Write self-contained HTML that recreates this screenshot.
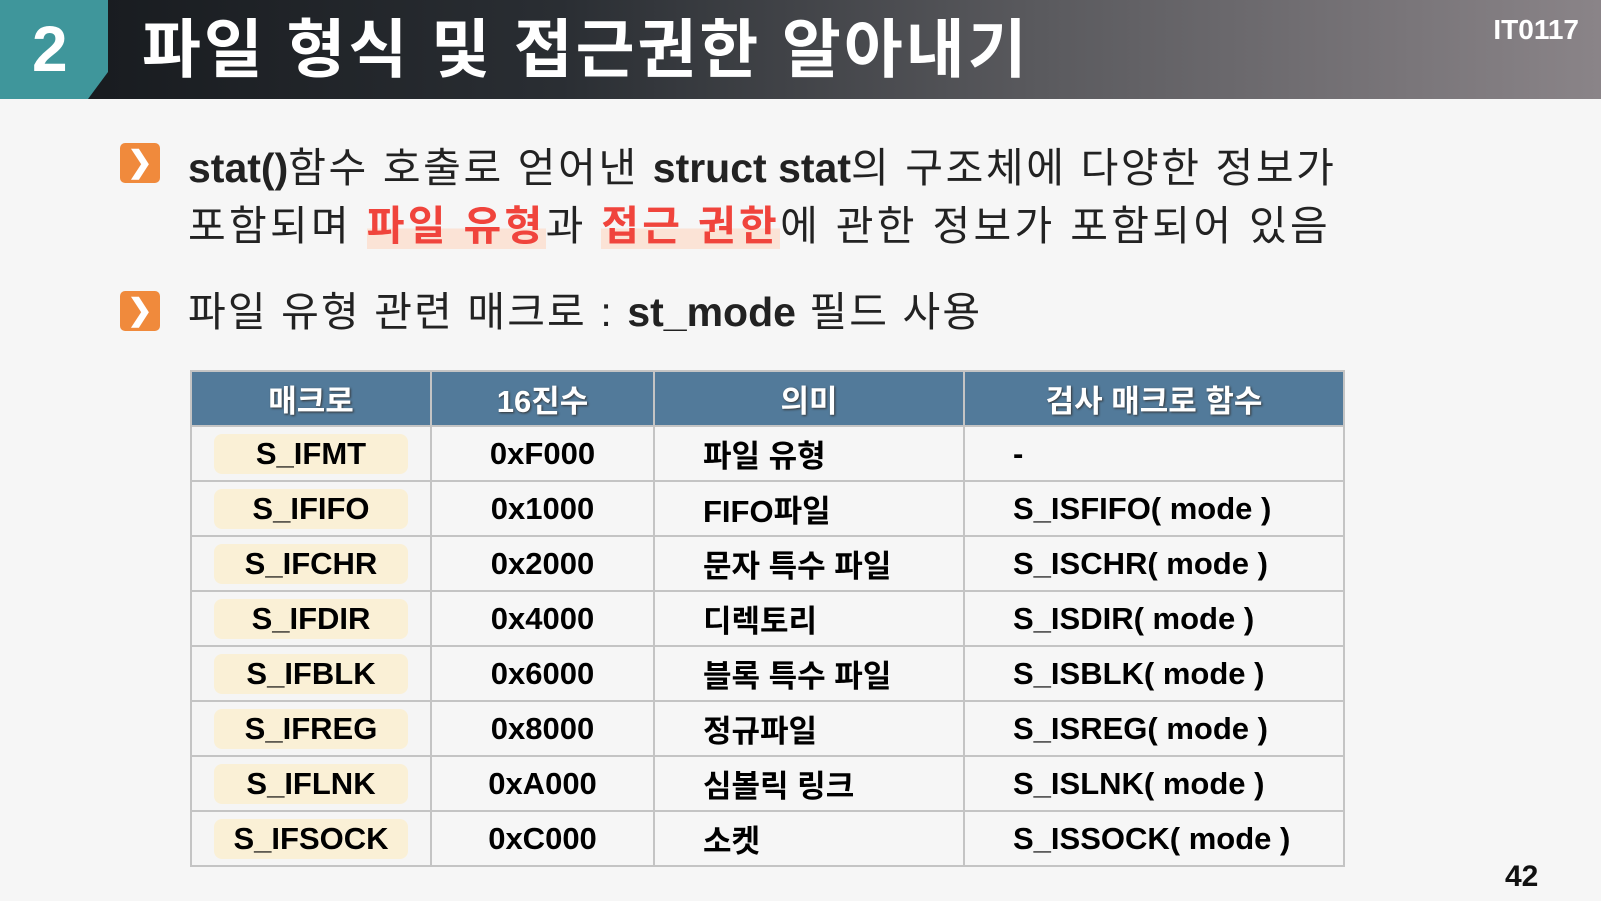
<!DOCTYPE html>
<html><head><meta charset="utf-8"><style>
body{margin:0;width:1601px;height:901px;background:#f6f6f6;overflow:hidden;position:relative;font-family:"Liberation Sans","Noto Sans CJK KR",sans-serif}
#hdr{position:absolute;left:0;top:0;width:1601px;height:99px;background:linear-gradient(90deg,#15181c 0%,#2a2e33 35%,#5a5a5e 65%,#8a8488 100%)}
#num{position:absolute;left:0;top:0;width:108px;height:99px;background:#3f969b;clip-path:polygon(0 0,108px 0,108px 72px,88px 99px,0 99px);color:#fff;font-weight:bold;font-size:64px;line-height:99px;text-indent:32px}
#title{position:absolute;left:142px;top:10px;color:#fff;font-size:64px;font-weight:bold;line-height:80px;letter-spacing:3px}
#code{position:absolute;right:22px;top:14px;color:#fff;font-weight:bold;font-size:28px}
.b{position:absolute;left:120px;width:40px;height:40px;background:#f08a3c;border-radius:5px;color:#fff;font-size:30px;line-height:40px;text-align:center;font-weight:bold}
.t{position:absolute;left:188px;font-size:41px;color:#222;white-space:nowrap;letter-spacing:2.6px}
.t b{letter-spacing:0}
.hl{color:#f0443c;font-weight:bold;background:linear-gradient(transparent 55%,#fbe3d6 55%)}
table{position:absolute;left:190px;top:370px;border-collapse:collapse;width:1155px}
td,th{border:2px solid #c4c4c4;height:53px;font-size:31px;font-weight:bold;text-align:center;padding:0}
th{background:#527a9a;color:#fff;height:53px;text-shadow:1px 1px 2px #333}
td.c1{background:#f5f5f5}
td.c3,td.c4{text-align:left;padding-left:48px}
.pill{display:inline-block;width:194px;height:40px;line-height:40px;background:#faf0d6;border-radius:8px}
#pg{position:absolute;left:1505px;top:860px;font-size:30px;font-weight:bold;color:#111}
</style></head><body>
<div id="hdr"></div>
<div id="num">2</div>
<div id="title">파일 형식 및 접근권한 알아내기</div>
<div id="code">IT0117</div>
<div class="b" style="top:143px">❯</div>
<div class="t" style="top:134px"><b>stat()</b>함수 호출로 얻어낸 <b>struct stat</b>의 구조체에 다양한 정보가</div>
<div class="t" style="top:192px;letter-spacing:3.3px">포함되며 <span class="hl">파일 유형</span>과 <span class="hl">접근 권한</span>에 관한 정보가 포함되어 있음</div>
<div class="b" style="top:291px">❯</div>
<div class="t" style="top:278px;letter-spacing:2.1px">파일 유형 관련 매크로 : <b>st_mode</b> 필드 사용</div>
<table>
<tr><th style="width:238px">매크로</th><th style="width:221px">16진수</th><th style="width:308px">의미</th><th>검사 매크로 함수</th></tr>
<tr><td class="c1"><span class="pill">S_IFMT</span></td><td>0xF000</td><td class="c3">파일 유형</td><td class="c4">-</td></tr>
<tr><td class="c1"><span class="pill">S_IFIFO</span></td><td>0x1000</td><td class="c3">FIFO파일</td><td class="c4">S_ISFIFO( mode )</td></tr>
<tr><td class="c1"><span class="pill">S_IFCHR</span></td><td>0x2000</td><td class="c3">문자 특수 파일</td><td class="c4">S_ISCHR( mode )</td></tr>
<tr><td class="c1"><span class="pill">S_IFDIR</span></td><td>0x4000</td><td class="c3">디렉토리</td><td class="c4">S_ISDIR( mode )</td></tr>
<tr><td class="c1"><span class="pill">S_IFBLK</span></td><td>0x6000</td><td class="c3">블록 특수 파일</td><td class="c4">S_ISBLK( mode )</td></tr>
<tr><td class="c1"><span class="pill">S_IFREG</span></td><td>0x8000</td><td class="c3">정규파일</td><td class="c4">S_ISREG( mode )</td></tr>
<tr><td class="c1"><span class="pill">S_IFLNK</span></td><td>0xA000</td><td class="c3">심볼릭 링크</td><td class="c4">S_ISLNK( mode )</td></tr>
<tr><td class="c1"><span class="pill">S_IFSOCK</span></td><td>0xC000</td><td class="c3">소켓</td><td class="c4">S_ISSOCK( mode )</td></tr>
</table>
<div id="pg">42</div>
</body></html>
